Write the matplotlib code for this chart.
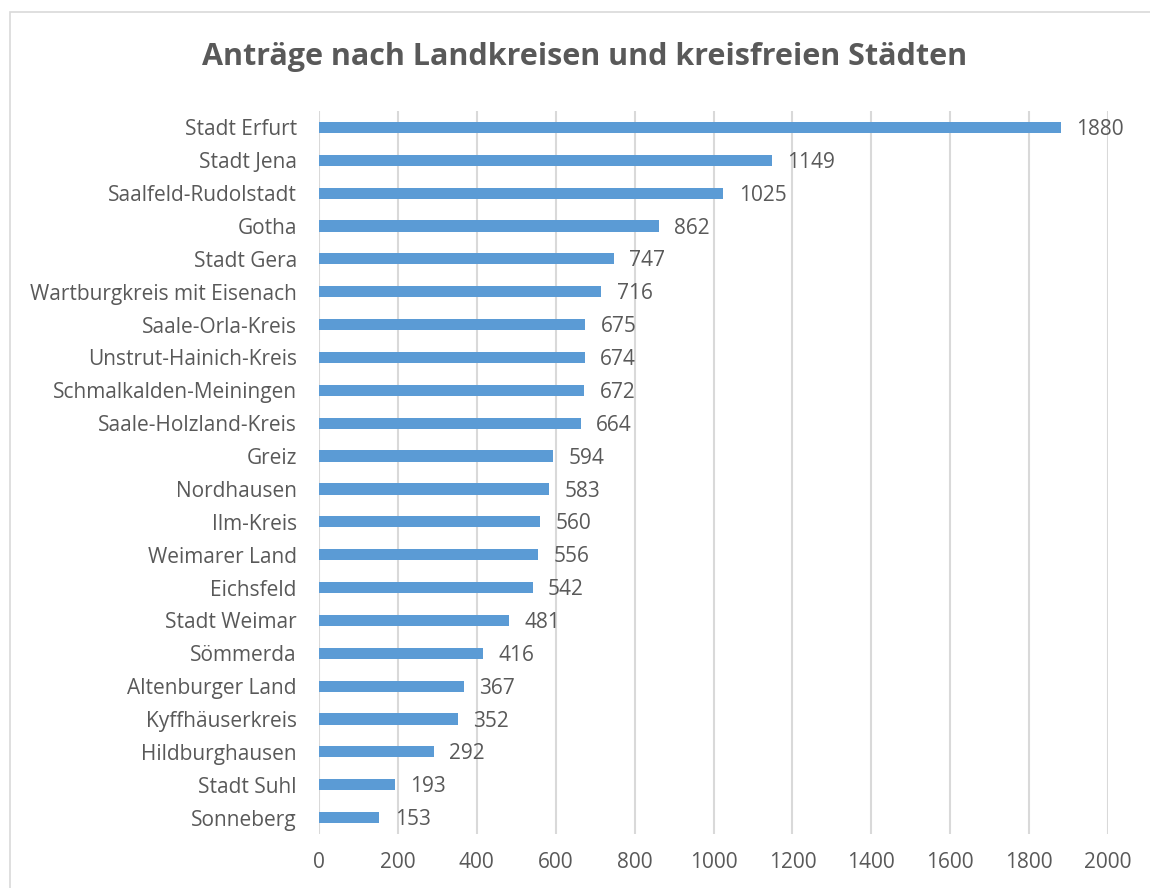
import matplotlib.pyplot as plt
from matplotlib.patches import Rectangle

regions = ['Stadt Erfurt', 'Stadt Jena', 'Saalfeld-Rudolstadt', 'Gotha', 'Stadt Gera',
           'Wartburgkreis mit Eisenach', 'Saale-Orla-Kreis', 'Unstrut-Hainich-Kreis',
           'Schmalkalden-Meiningen', 'Saale-Holzland-Kreis', 'Greiz', 'Nordhausen',
           'Ilm-Kreis', 'Weimarer Land', 'Eichsfeld', 'Stadt Weimar', 'Sömmerda',
           'Altenburger Land', 'Kyffhäuserkreis', 'Hildburghausen', 'Stadt Suhl', 'Sonneberg']
antraege = [1880, 1149, 1025, 862, 747, 716, 675, 674, 672, 664, 594, 583,
            560, 556, 542, 481, 416, 367, 352, 292, 193, 153]
x_ticks = [0, 200, 400, 600, 800, 1000, 1200, 1400, 1600, 1800, 2000]

plt.rcParams['font.family'] = ['Open Sans', 'DejaVu Sans']
text_col = '#595959'
bar_col = '#5b9bd5'
grid_col = '#d9d9d9'
fs = 15

fig = plt.figure(figsize=(11.5, 8.88), dpi=100)
ax = fig.add_axes([319 / 1150, 1 - 834 / 888, (1108 - 319) / 1150, (834 - 111) / 888])

# outer chart border (cut off on the right and bottom like the screenshot)
fig.patches.append(Rectangle((10 / 1150, -0.05), 1.2, 1 - 12 / 888 + 0.05,
                             transform=fig.transFigure, fill=False,
                             edgecolor=grid_col, linewidth=1.2))

ypos = list(range(len(regions)))
ax.barh(ypos, antraege, height=0.34, color=bar_col, zorder=3)

for y, v in zip(ypos, antraege):
    ax.annotate(str(v), (v, y), xytext=(11, -1.5), textcoords='offset points',
                va='center', ha='left', fontsize=fs, color=text_col)

ax.set_yticks(ypos)
ax.set_yticklabels(regions, fontsize=fs, color=text_col)
ax.set_ylim(len(regions) - 0.5, -0.5)
ax.set_xlim(0, 2000)
ax.set_xticks(x_ticks)
ax.set_xticklabels([str(t) for t in x_ticks], fontsize=fs, color=text_col)
ax.tick_params(axis='both', length=0)
ax.tick_params(axis='y', pad=16)
ax.tick_params(axis='x', pad=13)
ax.xaxis.grid(True, color=grid_col, linewidth=1.5, zorder=0)
for s in ax.spines.values():
    s.set_visible(False)

fig.text(585 / 1150, 1 - 57 / 888, 'Anträge nach Landkreisen und kreisfreien Städten',
         ha='center', va='center', fontsize=22, fontweight='bold', color=text_col)

fig.savefig('out.png', dpi=100)
